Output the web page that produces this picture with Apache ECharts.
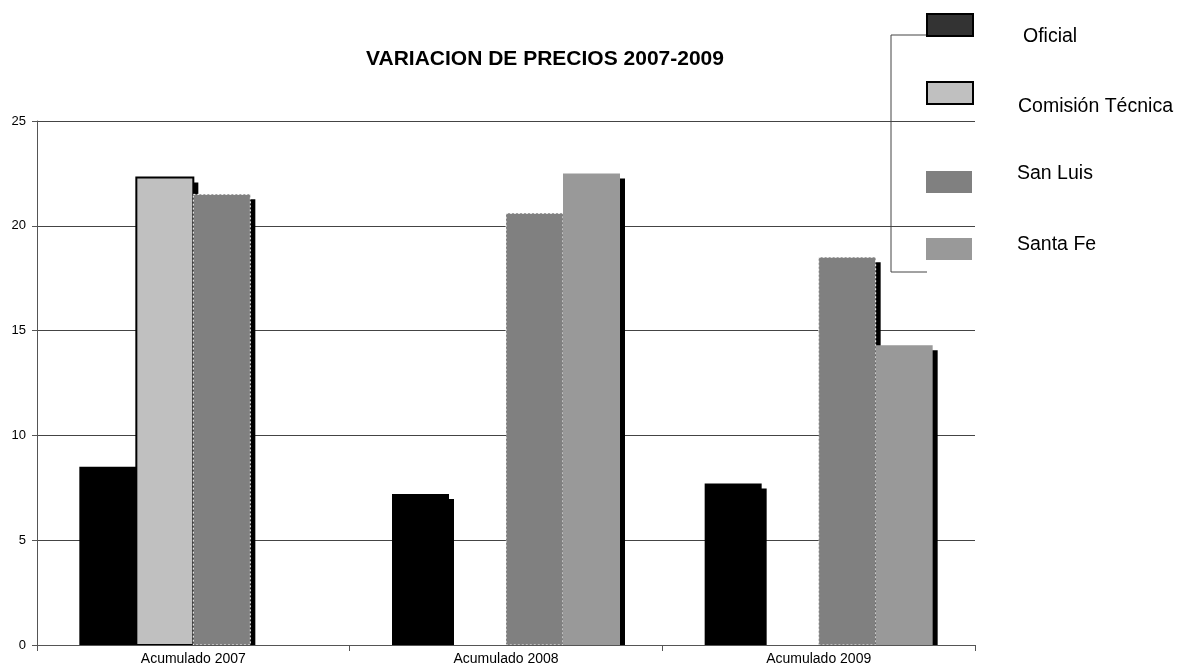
<!DOCTYPE html>
<html><head><meta charset="utf-8">
<script src="https://cdn.jsdelivr.net/npm/echarts@6/dist/echarts.min.js"></script>
<style>html,body{margin:0;padding:0;background:#fff}#c{width:1179px;height:671px}</style>
</head><body><div id="c"></div>
<script>
var categories = ['Acumulado 2007', 'Acumulado 2008', 'Acumulado 2009'];
var oficial = [8.5, 7.2, 7.7];
var comision = [22.3, null, null];
var sanLuis = [21.5, 20.6, 18.5];
var santaFe = [null, 22.5, 14.3];
var seriesNames = ['Oficial', 'Comisión Técnica', 'San Luis', 'Santa Fe'];
var yTicks = [0, 5, 10, 15, 20, 25];

var font = 'Liberation Sans, Arial, sans-serif';
var BAR_W = 57, SH = 5;

function mk(idx, name, values, fill, stroke) {
  return {
    type: 'custom', name: name,
    data: values.map(function (v, i) { return [i, v]; }),
    encode: {x: 0, y: 1},
    itemStyle: {color: fill},
    renderItem: function (params, api) {
      var v = api.value(1);
      if (v == null || isNaN(v)) return;
      var top = api.coord([api.value(0), v]);
      var base = api.coord([api.value(0), 0]);
      var x0 = top[0] + (idx - 1.5) * BAR_W - BAR_W / 2;
      var h = base[1] - top[1];
      var mainStyle = {fill: fill};
      if (stroke) { for (var k in stroke) mainStyle[k] = stroke[k]; }
      return {type: 'group', children: [
        {type: 'rect', shape: {x: x0 + SH, y: top[1] + SH, width: BAR_W, height: Math.max(0, h - SH)}, style: {fill: '#000'}},
        {type: 'rect', shape: {x: x0, y: top[1], width: BAR_W, height: h}, style: mainStyle}
      ]};
    }
  };
}

var legendTops = [13, 81, 164, 235];
var legendIcons = [
  {color: '#333333', borderColor: '#000', borderWidth: 2},
  {color: '#c0c0c0', borderColor: '#000', borderWidth: 2},
  {color: '#808080', borderWidth: 0},
  {color: '#999999', borderWidth: 0}
];
var legendTextPad = [[24, 0, 0, 45], [28, 0, 0, 40], [0, 0, 16, 40], [0, 0, 8, 40]];
var legends = seriesNames.map(function (n, i) {
  return {left: 926, top: legendTops[i], padding: 0, orient: 'vertical', itemWidth: 46, itemHeight: 22,
    selectedMode: false, icon: 'rect',
    data: [{name: n, itemStyle: legendIcons[i]}],
    formatter: function (name) { return '{t|' + name + '}'; },
    textStyle: {fontFamily: font, fontSize: 19, color: '#000',
      rich: {t: {fontFamily: font, fontSize: 19.5, color: '#000', padding: legendTextPad[i]}}}};
});

var chart = echarts.init(document.getElementById('c'));
chart.setOption({
  animation: false,
  title: {text: 'VARIACION DE PRECIOS 2007-2009', left: 540, top: 44, textAlign: 'center',
    textStyle: {fontFamily: font, fontSize: 21, fontWeight: 'bold', color: '#000'}},
  legend: legends,
  grid: {left: 37, right: 204, top: 121, bottom: 26},
  xAxis: {type: 'category', data: categories, z: 10,
    axisLine: {lineStyle: {color: '#555', width: 1}},
    axisTick: {show: true, length: 6, lineStyle: {color: '#555'}},
    axisLabel: {fontFamily: font, fontSize: 14, color: '#000', margin: 7}},
  yAxis: {type: 'value', min: 0, max: 25, interval: 5,
    axisLine: {show: true, lineStyle: {color: '#555'}},
    axisTick: {show: true, length: 5, lineStyle: {color: '#555'}},
    axisLabel: {fontFamily: font, fontSize: 13, color: '#000', margin: 11,
      formatter: function (v) { return yTicks.indexOf(v) >= 0 ? String(v) : ''; }},
    splitLine: {show: true, lineStyle: {color: '#444', width: 1}}},
  graphic: [{type: 'polyline', shape: {points: [[928, 35], [891, 35], [891, 272], [927, 272]]},
    style: {stroke: '#444', lineWidth: 1, fill: null}, silent: true}],
  series: [
    mk(0, seriesNames[0], oficial, '#000000', null),
    mk(1, seriesNames[1], comision, '#c0c0c0', {stroke: '#000', lineWidth: 2}),
    mk(2, seriesNames[2], sanLuis, '#808080', {stroke: '#ffffff', lineWidth: 1, lineDash: [2, 2]}),
    mk(3, seriesNames[3], santaFe, '#999999', null)
  ]
});
</script></body></html>
